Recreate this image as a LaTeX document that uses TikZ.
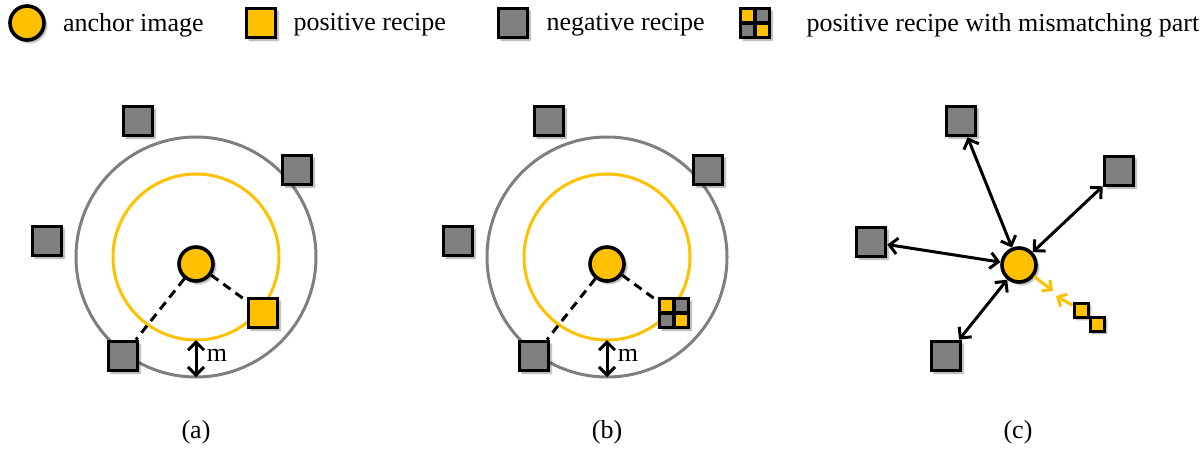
\documentclass[tikz,border=0pt]{standalone}
\usepackage{fontspec}
\setmainfont{Liberation Serif}
\usepackage{xcolor}
\usetikzlibrary{arrows.meta,positioning,shadows.blur}
\definecolor{gold}{HTML}{FFC000}
\definecolor{slate}{HTML}{7F7F7F}

\begin{document}
\begin{tikzpicture}[x=1pt,y=-1pt,font=\fontsize{26}{31}\selectfont,
  shd/.style={blur shadow={shadow xshift=2.5pt,shadow yshift=-2.5pt,shadow blur steps=6,shadow opacity=40}},
  anc/.style={circle,draw,line width=3.6pt,fill=gold,minimum size=34pt,inner sep=0pt,shd},
  sq/.style={rectangle,draw,line width=3.6pt,fill=#1,minimum size=29pt,inner sep=0pt,shd},sq/.default=slate,
  mix/.style={sq=slate,path picture={
      \fill[gold] (path picture bounding box.north west) rectangle (path picture bounding box.center);
      \fill[gold] (path picture bounding box.center) rectangle (path picture bounding box.south east);
      \draw[line width=3.2pt] (path picture bounding box.north) -- (path picture bounding box.south)
        (path picture bounding box.west) -- (path picture bounding box.east);}},
  tiny/.style={rectangle,draw,line width=3pt,fill=gold,minimum size=14pt,inner sep=0pt,shd},
  txt/.style={inner sep=0pt},
  key/.style={txt,yshift=-2pt},
  ring/.style={draw=#1,line width=3pt},
  link/.style={line width=3pt,dash pattern=on 9pt off 6pt},
  dbl/.style={{Straight Barb[length=8pt,width=16pt]}-{Straight Barb[length=8pt,width=16pt]},line width=3pt},
  yarr/.style={-{Straight Barb[length=7pt,width=14pt]},draw=gold,line width=3pt}]
  \useasboundingbox (0,0) rectangle (1203,448);

  % legend
  \node[anc] (l-anc) at (27,23) {};
  \node[key,right=17pt of l-anc] (l-anc-t) {anchor image};
  \node[sq=gold] (l-pos) at (261,23) {};
  \node[key,right=16pt of l-pos] (l-pos-t) {positive recipe};
  \node[sq] (l-neg) at (513,23) {};
  \node[key,right=17pt of l-neg] (l-neg-t) {negative recipe};
  \node[mix] (l-mix) at (755,23) {};
  \node[key,right=35pt of l-mix] (l-mix-t) {positive recipe with mismatching part};

  % (a)
  \coordinate (a-o) at (196,257);
  \draw[ring=slate] (a-o) circle[radius=120pt];
  \draw[ring=gold] (a-o) circle[radius=83pt];
  \node[anc] (a-anc) at (196,264) {};
  \node[sq=gold] (a-pos) at (263,313) {};
  \node[sq] (a-n1) at (138,121) {};
  \node[sq] (a-n2) at (297,170) {};
  \node[sq] (a-n3) at (47,241) {};
  \node[sq] (a-n4) at (123,356) {};
  \draw[link] (a-anc) -- (a-pos);
  \draw[link] (a-anc) -- (a-n4);
  \coordinate (a-in) at (196,340);
  \coordinate (a-out) at (196,377);
  \draw[dbl] (a-in) -- (a-out);
  \node[txt] (a-m) at (217,355) {m};
  \node (a-cap) at (196,432) {(a)};

  % (b)
  \coordinate (b-o) at (607,257);
  \draw[ring=slate] (b-o) circle[radius=120pt];
  \draw[ring=gold] (b-o) circle[radius=83pt];
  \node[anc] (b-anc) at (607,264) {};
  \node[mix] (b-mix) at (674,313) {};
  \node[sq] (b-n1) at (549,121) {};
  \node[sq] (b-n2) at (708,170) {};
  \node[sq] (b-n3) at (458,241) {};
  \node[sq] (b-n4) at (534,356) {};
  \draw[link] (b-anc) -- (b-mix);
  \draw[link] (b-anc) -- (b-n4);
  \coordinate (b-in) at (607,340);
  \coordinate (b-out) at (607,377);
  \draw[dbl] (b-in) -- (b-out);
  \node[txt] (b-m) at (628,355) {m};
  \node (b-cap) at (607,432) {(b)};

  % (c)
  \node[anc] (c-anc) at (1019,265) {};
  \node[sq] (c-n1) at (961,121) {};
  \node[sq] (c-n2) at (1119,171) {};
  \node[sq] (c-n3) at (871,242) {};
  \node[sq] (c-n4) at (946,356) {};
  \node[tiny] (c-t1) at (1081,310) {};
  \node[tiny] (c-t2) at (1097,324) {};
  \foreach \s in {c-n1,c-n2,c-n3,c-n4}
    \draw[dbl] (c-anc) -- (\s);
  \coordinate (c-m1) at (1053,291);
  \coordinate (c-m2) at (1056,296);
  \draw[yarr] (c-anc) -- (c-m1);
  \draw[yarr] (c-t1) -- (c-m2);
  \node (c-cap) at (1018,432) {(c)};
\end{tikzpicture}
\end{document}
